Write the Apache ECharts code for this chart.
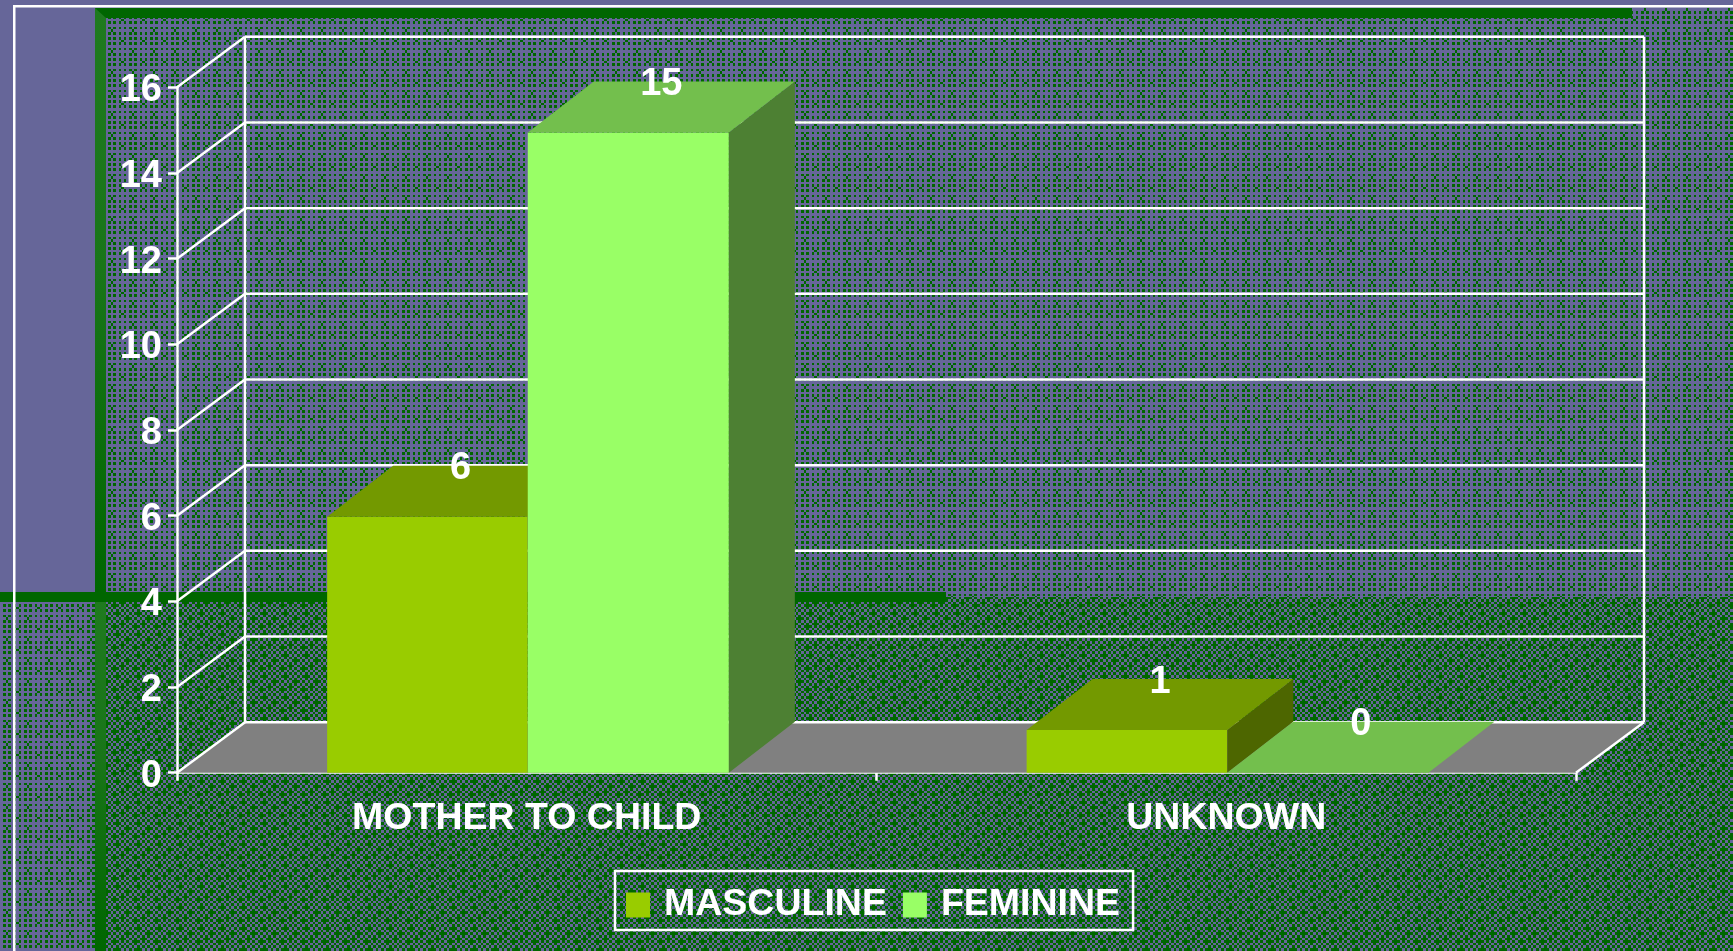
<!DOCTYPE html>
<html><head><meta charset="utf-8">
<style>html,body{margin:0;padding:0;background:#666699}#c{width:1733px;height:951px}</style>
<script src="https://cdn.jsdelivr.net/npm/echarts@6/dist/echarts.min.js"></script>
</head><body><div id="c"></div>
<script>
var categories = ['MOTHER TO CHILD', 'UNKNOWN'];
var masculine = [6, 1];
var feminine = [15, 0];
var yTicks = [0, 2, 4, 6, 8, 10, 12, 14, 16];

var WHITE = '#ffffff', PURPLE = '#666699', DARK = '#006600', LIGHT = '#1f7a1f';
var FONT = '"Liberation Sans", Arial, sans-serif';
var LW = 2.5;
var WALL_DX = 68, WALL_DY = 50.5, BAR_DX = 66, BAR_DY = 51;

function tile(rows) {
  var w = [3, 3, 2, 3, 3, 2, 3, 2];
  var c = document.createElement('canvas');
  c.width = 21; c.height = 21;
  var g = c.getContext('2d');
  g.fillStyle = PURPLE; g.fillRect(0, 0, 21, 21);
  g.fillStyle = DARK;
  var y = 0;
  for (var r = 0; r < 8; r++) {
    var x = 0;
    for (var k = 0; k < 8; k++) {
      if (rows[r].charAt(k) === '#') g.fillRect(x, y, w[k], w[r]);
      x += w[k];
    }
    y += w[r];
  }
  return {image: c, repeat: 'repeat'};
}
var sparse = tile([
  '.#.#.#.#',
  '........',
  '.#.#.#.#',
  '..#.....',
  '.#.#.#.#',
  '........',
  '.#.#.#.#',
  '......#.'
]);
var dense = tile([
  '#.#.#.#.',
  '.#.###.#',
  '#.#.#.#.',
  '##.#.#.#',
  '#.#.#.#.',
  '.#.#.###',
  '#.###.#.',
  '.#.#.#.#'
]);

function bg(x, y, w, h, fill) {
  return {type: 'rect', silent: true, z: -10, shape: {x: x, y: y, width: w, height: h}, style: {fill: fill}};
}
function vGrad() {
  return {type: 'linear', x: 0, y: 0, x2: 0, y2: 1, colorStops: [
    {offset: 0, color: LIGHT}, {offset: 0.45, color: '#197519'}, {offset: 1, color: DARK}
  ]};
}

var graphicEls = [
  bg(0, 0, 1733, 597, PURPLE),
  bg(106, 18, 1627, 579, sparse),
  bg(0, 602, 95, 349, sparse),
  bg(95, 597, 1638, 354, dense),
  bg(1632, 8, 101, 10, sparse),
  bg(95, 8, 11, 584, vGrad()),
  {type: 'polygon', silent: true, z: -10, shape: {points: [[95, 8], [1632, 8], [1632, 18], [106, 18]]}, style: {fill: DARK}},
  bg(95, 602, 11, 349, vGrad()),
  bg(0, 592, 946, 10, DARK),
  bg(13, 5, 1720, 2.5, WHITE),
  bg(13, 5, 2.5, 946, WHITE)
];

function line(x1, y1, x2, y2) {
  return {type: 'line', shape: {x1: x1, y1: y1, x2: x2, y2: y2}, style: {stroke: WHITE, lineWidth: LW, fill: null}};
}
function poly(points, fill) {
  return {type: 'polygon', shape: {points: points}, style: {fill: fill, stroke: null}};
}

function renderWall(params, api) {
  var cs = params.coordSys;
  var v = api.value(1);
  var y = api.coord([0, v])[1];
  var L = cs.x, R = cs.x + cs.width;
  var kids = [];
  if (v === 0) {
    kids.push(poly([[L, y], [R, y], [R + WALL_DX, y - WALL_DY], [L + WALL_DX, y - WALL_DY]], '#808080'));
    kids.push(line(R, y, R + WALL_DX, y - WALL_DY));
    var topY = api.coord([0, yTicks[yTicks.length - 1]])[1] - WALL_DY;
    kids.push(line(L + WALL_DX, y - WALL_DY, L + WALL_DX, topY));
    kids.push(line(R + WALL_DX, y - WALL_DY, R + WALL_DX, topY));
  }
  kids.push(line(L + WALL_DX, y - WALL_DY, R + WALL_DX, y - WALL_DY));
  kids.push(line(L, y, L + WALL_DX, y - WALL_DY));
  return {type: 'group', children: kids};
}

function barRenderer(offset, inset, front, top, side) {
  return function (params, api) {
    var cat = api.value(0), val = api.value(1);
    var p = api.coord([cat, val]);
    var base = api.coord([cat, 0])[1];
    var w = api.size([1, 0])[0] * 0.2875;
    var x0 = p[0] + offset * w + inset, x1 = p[0] + (offset + 1) * w + 1, y = p[1];
    var kids = [];
    if (y < base - 0.5) {
      kids.push(poly([[x0, y], [x1, y], [x1, base], [x0, base]], front));
      kids.push(poly([[x1, y], [x1 + BAR_DX, y - BAR_DY], [x1 + BAR_DX, base - BAR_DY], [x1, base]], side));
    }
    kids.push(poly([[x0, y], [x1, y], [x1 + BAR_DX, y - BAR_DY], [x0 + BAR_DX, y - BAR_DY]], top));
    kids.push({
      type: 'text', z2: 100,
      style: {
        text: String(val), x: (x0 + x1) / 2 + BAR_DX / 2, y: y - BAR_DY + 3,
        fill: WHITE, font: 'bold 38px ' + FONT, align: 'center', verticalAlign: 'middle'
      }
    });
    return {type: 'group', children: kids};
  };
}

function pairs(arr) { return arr.map(function (v, i) { return [i, v]; }); }

var chart = echarts.init(document.getElementById('c'), null, {renderer: 'canvas'});
chart.setOption({
  animation: false,
  backgroundColor: PURPLE,
  graphic: {elements: graphicEls},
  grid: {left: 177, top: 87.3, width: 1399, height: 685.4, containLabel: false},
  legend: {
    data: ['MASCULINE', 'FEMININE'], left: 615, top: 871,
    orient: 'horizontal', icon: 'rect', itemWidth: 24, itemHeight: 25, itemGap: 16,
    padding: [15, 13, 6, 11], borderColor: WHITE, borderWidth: LW, selectedMode: false,
    textStyle: {color: WHITE, fontFamily: FONT, fontWeight: 'bold', fontSize: 37.5, padding: [0, 0, 0, 9]}
  },
  xAxis: {
    type: 'category', data: categories,
    axisLine: {lineStyle: {color: WHITE, width: LW}},
    axisTick: {show: true, alignWithLabel: false, length: 8, lineStyle: {color: WHITE, width: LW}},
    axisLabel: {color: WHITE, fontFamily: FONT, fontWeight: 'bold', fontSize: 37.5, margin: 27, interval: 0},
    splitLine: {show: false}
  },
  yAxis: [{
    type: 'value', min: 0, max: 16, interval: 2,
    axisLine: {show: true, lineStyle: {color: WHITE, width: LW}},
    axisTick: {show: true, length: 9, lineStyle: {color: WHITE, width: LW}},
    axisLabel: {
      margin: 15,
      formatter: '{t|{value}}',
      rich: {t: {color: WHITE, fontFamily: FONT, fontWeight: 'bold', fontSize: 38, padding: [7, 0, 0, 0]}}
    },
    splitLine: {show: false}
  }, {
    type: 'value', min: 0, max: 16.06, show: false, splitLine: {show: false}
  }],
  series: [
    {
      name: 'walls', type: 'custom', z: 1, yAxisIndex: 0, silent: true,
      data: yTicks.map(function (t) { return [0, t]; }),
      encode: {x: 0, y: 1}, renderItem: renderWall
    },
    {
      name: 'MASCULINE', type: 'custom', z: 3, yAxisIndex: 1,
      itemStyle: {color: '#99cc00'},
      data: pairs(masculine), encode: {x: 0, y: 1},
      renderItem: barRenderer(-1, 1.5, '#99cc00', '#739900', '#4d6600')
    },
    {
      name: 'FEMININE', type: 'custom', z: 4, yAxisIndex: 1,
      itemStyle: {color: '#99ff66'},
      data: pairs(feminine), encode: {x: 0, y: 1},
      renderItem: barRenderer(0, 1, '#99ff66', '#73bf4d', '#4d8033')
    }
  ]
});
</script></body></html>
